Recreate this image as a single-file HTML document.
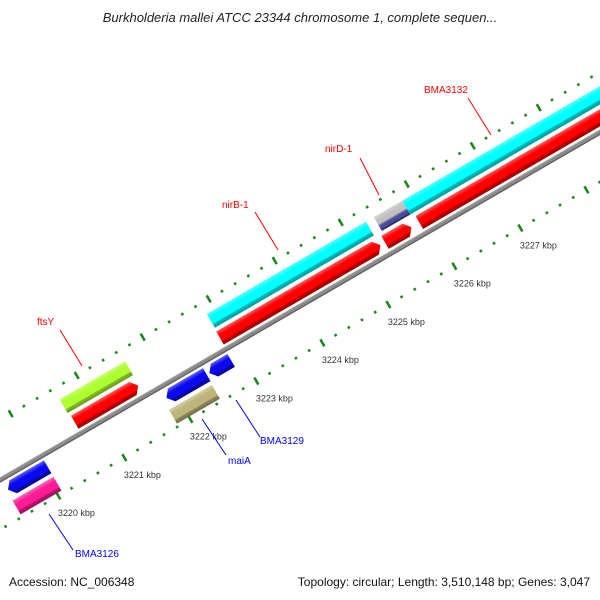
<!DOCTYPE html>
<html><head><meta charset="utf-8"><style>
html,body{margin:0;padding:0;background:#fff;}
svg{display:block;font-family:"Liberation Sans",sans-serif;}
</style></head><body>
<svg id="map" width="600" height="600" viewBox="0 0 600 600" xmlns="http://www.w3.org/2000/svg">
<defs id="defs"></defs>
<text x="300" y="22" text-anchor="middle" font-size="13" font-style="italic" fill="#222">Burkholderia mallei ATCC 23344 chromosome 1, complete sequen...</text>
<g id="rot" transform="translate(0,480) rotate(-30.1)"></g>
<g id="labels"></g>
<text x="9" y="586" font-size="12" fill="#111">Accession: NC_006348</text>
<text x="590" y="586" text-anchor="end" font-size="12" fill="#111">Topology: circular; Length: 3,510,148 bp; Genes: 3,047</text>
</svg>
<script>
// ---- data ----
const featNames  = ['far-left-outer','far-left-inner','BMA3126-blue','BMA3126','ftsY','ftsY-red','BMA3129','BMA3129-b','maiA','nirB-1','nirB-1-red','nirD-1','nirD-1-purple','nirD-1-red','BMA3132','BMA3132-red'];
const featStart  = [3217.4, 3217.4, 3219.47, 3219.45, 3220.65, 3220.67, 3221.87, 3222.52, 3221.82, 3222.88, 3222.87, 3225.41, 3225.41, 3225.37, 3225.84, 3225.89];
const featEnd    = [3218.39, 3218.40, 3220.07, 3220.07, 3221.64, 3221.63, 3222.48, 3222.85, 3222.47, 3225.29, 3225.30, 3225.84, 3225.84, 3225.77, 3229.5, 3229.5];
const featRow    = ['ro','ri','ri','ro','fo','fi','ri','ri','ro','fo','fi','fo','fop','fi','fo','fi'];
const featColor  = ['#0a0af0','#0a0af0','#0a0af0','#ff1a96','#adff2f','#ff0000','#0a0af0','#0a0af0','#bdb57a','#00ffff','#ff0000','#c0c0c0','#4a4a9a','#ff0000','#00ffff','#ff0000'];
const featArrow  = [0,1,1,0,0,1,1,1,0,0,1,0,0,1,0,1];
const majorTicks = [3218,3219,3220,3221,3222,3223,3224,3225,3226,3227,3228,3229];
const tickLabels = ['3220 kbp','3221 kbp','3222 kbp','3223 kbp','3224 kbp','3225 kbp','3226 kbp','3227 kbp'];
const labelKbp   = [3220,3221,3222,3223,3224,3225,3226,3227];
// ---- geometry ----
const NS='http://www.w3.org/2000/svg';
const C=Math.cos(30.1*Math.PI/180), S=Math.sin(30.1*Math.PI/180);
const U0=42.5, PXK=76.3;
function uScale(k){return U0+(k-3220)*PXK;}
function toScreen(u,v){return [u*C - v*S, 480 - u*S - v*C];}
const rows={fo:[24,40],fop:[24,31],fi:[5,20],ri:[-20,-5],ro:[-40,-24]};
const rot=document.getElementById('rot'), defs=document.getElementById('defs'), labels=document.getElementById('labels');
function shade(hex,f){let n=parseInt(hex.slice(1),16);let r=n>>16,g=(n>>8)&255,b=n&255;
 const m=x=>Math.max(0,Math.min(255,Math.round(f>1?x+(255-x)*(f-1):x*f)));return `rgb(${m(r)},${m(g)},${m(b)})`;}
function grad(id,col){const g=document.createElementNS(NS,'linearGradient');g.setAttribute('id',id);
 g.setAttribute('x1','0');g.setAttribute('y1','0');g.setAttribute('x2','0');g.setAttribute('y2','1');
 [[0,shade(col,1.35)],[0.3,col],[0.72,col],[0.75,shade(col,0.75)],[1,shade(col,0.6)]].forEach(([o,c])=>{const s=document.createElementNS(NS,'stop');s.setAttribute('offset',o);s.setAttribute('stop-color',c);g.appendChild(s);});
 defs.appendChild(g);}
// backbone
grad('gbb','#8a8a8a');
const bb=document.createElementNS(NS,'rect');


bb.setAttribute('x',-100);bb.setAttribute('y',-2.5);bb.setAttribute('width',900);bb.setAttribute('height',5);bb.setAttribute('fill','url(#gbb)');
rot.appendChild(bb);
// ticks
function ring(v,name){
 for(let i=0;i<majorTicks.length-1;i++){
  for(let j=0;j<5;j++){
   const k=majorTicks[i]+j*0.2, u=uScale(k);
   const r=document.createElementNS(NS,'rect');
   
   
   const h=j===0?8:2.6;
   r.setAttribute('x',u-1.3);r.setAttribute('y',-v-h/2);r.setAttribute('width',2.6);r.setAttribute('height',h);r.setAttribute('fill','#1f861f');
   rot.appendChild(r);
  }
 }
}
ring(-43,'inner-ring');ring(52,'outer-ring');
// features
featNames.forEach((nm,i)=>{
 const gid='g'+i;grad(gid,featColor[i]);
 const [v1,v2]=rows[featRow[i]];
 const y1=-v2,y2=-v1,mid=(y1+y2)/2;
 let a=uScale(featStart[i]),b=uScale(featEnd[i]);
 const fwd=featRow[i][0]==='f';const ah=Math.min(6,(b-a)/2);
 let pts;
 if(featArrow[i]&&fwd) pts=[[a,y1],[b-ah,y1],[b,mid],[b-ah,y2],[a,y2]];
 else if(featArrow[i]) pts=[[a+ah,y1],[b,y1],[b,y2],[a+ah,y2],[a,mid]];
 else pts=[[a,y1],[b,y1],[b,y2],[a,y2]];
 const p=document.createElementNS(NS,'polygon');
 
 
 p.setAttribute('points',pts.map(q=>q.join(',')).join(' '));
 p.setAttribute('fill','url(#'+gid+')');
 rot.appendChild(p);
});
// tick labels
tickLabels.forEach((t,i)=>{
 const [x,y]=toScreen(uScale(labelKbp[i]),-63);
 const tx=document.createElementNS(NS,'text');
 
 
 tx.setAttribute('x',x+8);tx.setAttribute('y',y+3);tx.setAttribute('text-anchor','middle');tx.setAttribute('font-size','9');tx.setAttribute('fill','#333');
 tx.textContent=t;labels.appendChild(tx);
});
// gene callouts
const calloutText=['BMA3132','nirD-1','nirB-1','ftsY','BMA3129','maiA','BMA3126'];
const calloutColor=['#f00','#f00','#f00','#f00','#00f','#00f','#00f'];
const calloutPos=[[424,93],[325,152],[222,208],[37,325],[260,444],[228,464],[75,557]];
const calloutLine=[[468,98,491,135],[360,158,379,195],[255,212,278,250],[60,330,82,366],[236,400,260,437],[202,419,226,455],[49,514,73,550]];
calloutText.forEach((t,i)=>{
 const l=document.createElementNS(NS,'line');
 
 
 const c=calloutLine[i];
 l.setAttribute('x1',c[0]);l.setAttribute('y1',c[1]);l.setAttribute('x2',c[2]);l.setAttribute('y2',c[3]);l.setAttribute('stroke',calloutColor[i]);l.setAttribute('stroke-width','1');
 labels.appendChild(l);
 const tx=document.createElementNS(NS,'text');
 
 
 tx.setAttribute('x',calloutPos[i][0]);tx.setAttribute('y',calloutPos[i][1]);tx.setAttribute('font-size','10');tx.setAttribute('fill',calloutColor[i]);
 tx.textContent=t;labels.appendChild(tx);
});
</script>
</body></html>
